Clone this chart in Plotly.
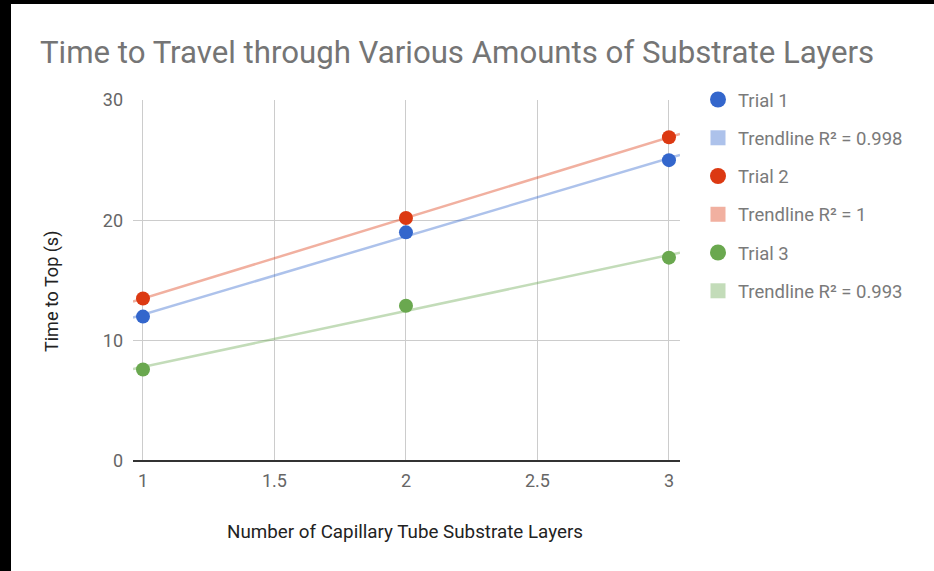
import numpy as np
import plotly.graph_objects as go

# ---- data ----
layers = [1, 2, 3]
trial1 = [12.0, 19.0, 25.0]
trial2 = [13.5, 20.2, 26.9]
trial3 = [7.6, 12.9, 16.9]
series_names = ["Trial 1", "Trial 2", "Trial 3"]
trend_names = ["Trendline R\u00b2 = 0.998", "Trendline R\u00b2 = 1", "Trendline R\u00b2 = 0.993"]
x_ticks = [1, 1.5, 2, 2.5, 3]
y_ticks = [0, 10, 20, 30]

colors = ["#3366cc", "#dc3912", "#6aa84f"]
trend_colors = ["rgba(51,102,204,0.4)", "rgba(220,57,18,0.4)", "rgba(106,168,79,0.4)"]

# ---- layout geometry (pixels) ----
WIDTH, HEIGHT = 934, 571
L, R, T, B = 133, 254, 100, 110
PW = WIDTH - L - R
PH = HEIGHT - T - B
XR = [0.962, 3.042]
YR = [0, 30]


def px_x(p):
    return (p - L) / PW


def px_y(p):
    return (HEIGHT - B - p) / PH


fig = go.Figure()
xs = np.array(XR)
for i, vals in enumerate([trial1, trial2, trial3]):
    slope, intercept = np.polyfit(layers, vals, 1)
    fig.add_trace(go.Scatter(
        x=xs, y=slope * xs + intercept, mode="lines",
        line=dict(color=trend_colors[i], width=2.5),
        showlegend=False, hoverinfo="skip"))
for i, vals in enumerate([trial1, trial2, trial3]):
    fig.add_trace(go.Scatter(
        x=layers, y=vals, mode="markers",
        marker=dict(color=colors[i], size=14),
        showlegend=False, name=series_names[i]))

# legend entries
for i in range(3):
    fig.add_trace(go.Scatter(
        x=[None], y=[None], mode="markers", name=series_names[i],
        legendgroup="g%da" % i,
        marker=dict(color=colors[i], size=16, symbol="circle")))
    fig.add_trace(go.Scatter(
        x=[None], y=[None], mode="markers", name=trend_names[i],
        legendgroup="g%db" % i,
        marker=dict(color=trend_colors[i], size=15, symbol="square")))

font = "Roboto, Arial, sans-serif"
fig.update_layout(
    width=WIDTH, height=HEIGHT,
    margin=dict(l=L, r=R, t=T, b=B, pad=0),
    paper_bgcolor="white", plot_bgcolor="white",
    font=dict(family=font, size=18, color="#555555"),
    title=dict(text="Time to Travel through Various Amounts of Substrate Layers",
               x=40 / WIDTH, xanchor="left", xref="container",
               y=1 - 52 / HEIGHT, yanchor="middle", yref="container",
               font=dict(family=font, size=31.2, color="#757575")),
    xaxis=dict(range=XR, tickvals=x_ticks, ticktext=[str(v) for v in x_ticks],
               showgrid=True, gridcolor="#cccccc", gridwidth=1,
               zeroline=False, showline=False, ticks="",
               ticklabelstandoff=7,
               tickfont=dict(size=18, color="#666666")),
    yaxis=dict(range=YR, tickvals=y_ticks, showgrid=True, gridcolor="#cccccc",
               gridwidth=1, zeroline=True, zerolinecolor="#333333", zerolinewidth=1.5,
               showline=False, ticks="", ticklabelstandoff=9,
               tickfont=dict(size=18, color="#666666")),
    legend=dict(x=px_x(698), y=px_y(81), xanchor="left", yanchor="top",
                font=dict(family=font, size=18.5, color="#7a7a7a"),
                tracegroupgap=11.2, traceorder="grouped",
                bgcolor="rgba(0,0,0,0)", borderwidth=0),
    annotations=[
        dict(text="Time to Top (s)", textangle=-90, x=px_x(52), y=px_y(292),
             xref="paper", yref="paper", showarrow=False,
             xanchor="center", yanchor="middle",
             font=dict(family=font, size=18, color="#222222")),
        dict(text="Number of Capillary Tube Substrate Layers", x=px_x(405), y=px_y(532),
             xref="paper", yref="paper", showarrow=False,
             xanchor="center", yanchor="middle",
             font=dict(family=font, size=18.8, color="#222222")),
    ],
    shapes=[
        dict(type="rect", xref="paper", yref="paper", x0=px_x(0), x1=px_x(11),
             y0=px_y(HEIGHT), y1=px_y(0), fillcolor="black", line=dict(width=0), layer="above"),
        dict(type="rect", xref="paper", yref="paper", x0=px_x(0), x1=px_x(WIDTH),
             y0=px_y(4), y1=px_y(0), fillcolor="black", line=dict(width=0), layer="above"),
    ],
)

fig.write_html("out.html", config={"displayModeBar": False},
               post_script="document.body.style.margin='0';")
